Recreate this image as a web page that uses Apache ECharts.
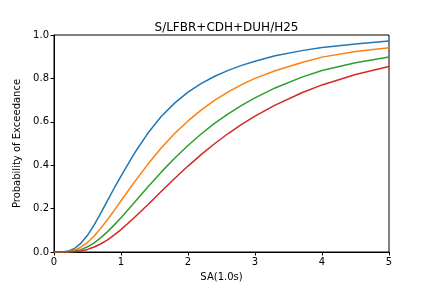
<!DOCTYPE html>
<html>
<head>
<meta charset="utf-8">
<script src="https://cdn.jsdelivr.net/npm/echarts@6/dist/echarts.min.js"></script>
<style>
html, body { margin: 0; padding: 0; background: #fff; }
#chart-box { width: 432px; height: 288px; }
</style>
</head>
<body>
<div id="chart-box"></div>
<script>
// SA(1.0s) sample points
var sa = [0, 0.1, 0.2, 0.3, 0.4, 0.5, 0.6, 0.7, 0.8, 0.9, 1.0, 1.2, 1.4, 1.6, 1.8, 2.0,
          2.2, 2.4, 2.6, 2.8, 3.0, 3.3, 3.7, 4.0, 4.5, 5.0];

// probability of exceedance, one list per damage state
var slight    = [0, 0, 0.003, 0.015, 0.04, 0.077, 0.125, 0.18, 0.238, 0.295, 0.35, 0.455, 0.547, 0.624, 0.686, 0.737,
                 0.777, 0.81, 0.837, 0.86, 0.879, 0.904, 0.928, 0.942, 0.959, 0.972];
var moderate  = [0, 0, 0.001, 0.007, 0.022, 0.044, 0.074, 0.11, 0.15, 0.192, 0.236, 0.322, 0.404, 0.479, 0.546, 0.604,
                 0.655, 0.70, 0.738, 0.771, 0.80, 0.835, 0.873, 0.898, 0.924, 0.941];
var extensive = [0, 0, 0, 0.003, 0.011, 0.024, 0.042, 0.066, 0.094, 0.125, 0.158, 0.228, 0.299, 0.368, 0.432, 0.491,
                 0.545, 0.594, 0.637, 0.676, 0.71, 0.756, 0.806, 0.836, 0.872, 0.899];
var complete  = [0, 0, 0, 0.001, 0.005, 0.012, 0.023, 0.038, 0.056, 0.079, 0.103, 0.159, 0.218, 0.279, 0.339, 0.396,
                 0.45, 0.5, 0.546, 0.588, 0.626, 0.677, 0.734, 0.77, 0.818, 0.855];

var colors = ['#1f77b4', '#ff7f0e', '#2ca02c', '#d62728'];

function pairs(vals) {
    var out = [];
    for (var i = 0; i < sa.length; i++) {
        out.push([sa[i], vals[i]]);
    }
    return out;
}

function line(name, vals, color) {
    return {
        name: name,
        type: 'line',
        data: pairs(vals),
        symbol: 'none',
        lineStyle: { width: 1.5, color: color },
        itemStyle: { color: color }
    };
}

var font = 'DejaVu Sans';
var axisText = { color: '#000', fontSize: 10, fontFamily: font };

var option = {
    animation: false,
    title: {
        text: 'S/LFBR+CDH+DUH/H25',
        left: 221.5,
        textAlign: 'center',
        top: 17,
        textStyle: { color: '#000', fontSize: 12, fontWeight: 'normal', fontFamily: font }
    },
    grid: {
        left: 54,
        right: 43,
        top: 35,
        bottom: 36,
        show: true,
        borderColor: '#000',
        borderWidth: 1
    },
    xAxis: {
        type: 'value',
        min: 0,
        max: 5,
        interval: 1,
        name: 'SA(1.0s)',
        nameLocation: 'middle',
        nameGap: 20,
        nameTextStyle: axisText,
        axisLine: { show: true, lineStyle: { color: '#000', width: 1 } },
        axisTick: { show: true, length: 3.5, lineStyle: { color: '#000' } },
        axisLabel: { margin: 5, color: '#000', fontSize: 10, fontFamily: font },
        splitLine: { show: false }
    },
    yAxis: {
        type: 'value',
        min: 0,
        max: 1,
        interval: 0.2,
        name: 'Probability of Exceedance',
        nameLocation: 'middle',
        nameGap: 27,
        nameTextStyle: axisText,
        axisLine: { show: true, lineStyle: { color: '#000', width: 1 } },
        axisTick: { show: true, length: 3.5, lineStyle: { color: '#000' } },
        axisLabel: {
            margin: 5, color: '#000', fontSize: 10, fontFamily: font,
            formatter: function (v) { return v.toFixed(1); }
        },
        splitLine: { show: false }
    },
    series: [
        line('Slight', slight, colors[0]),
        line('Moderate', moderate, colors[1]),
        line('Extensive', extensive, colors[2]),
        line('Complete', complete, colors[3])
    ]
};

var chart = echarts.init(document.getElementById('chart-box'), null, { renderer: 'canvas' });
chart.setOption(option);
</script>
</body>
</html>
